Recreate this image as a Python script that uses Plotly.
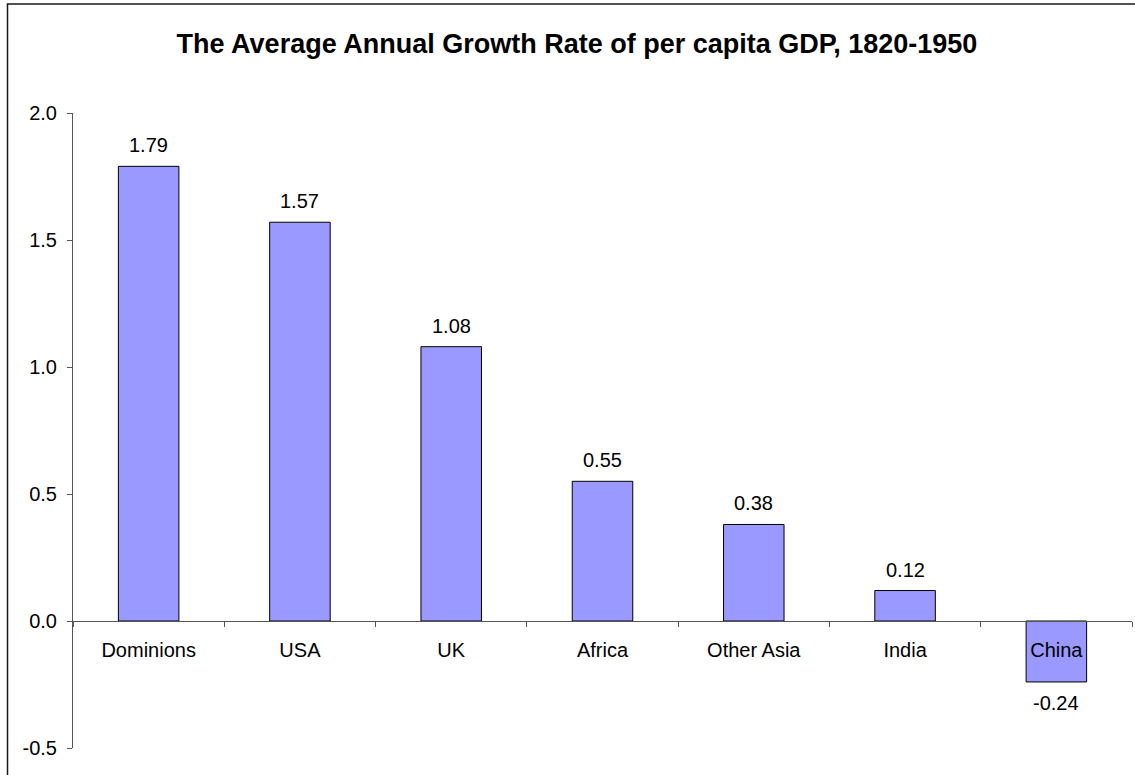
import plotly.graph_objects as go

# Average annual growth rate of per capita GDP, 1820-1950 (%)
regions = ["Dominions", "USA", "UK", "Africa", "Other Asia", "India", "China"]
growth = [1.79, 1.57, 1.08, 0.55, 0.38, 0.12, -0.24]

y_ticks = [-0.5, 0.0, 0.5, 1.0, 1.5, 2.0]
y_tick_labels = ["-0.5", "0.0", "0.5", "1.0", "1.5", "2.0"]

W, H = 1135, 775
PL, PR = 73, 1132          # plot area, horizontal (px)
PT, PB = 113.4, 747.7      # plot area, vertical (px)
Y_MIN, Y_MAX = -0.5, 2.0

FONT = "Liberation Sans, Arial, Helvetica, sans-serif"
AXIS_COLOR = "#555555"

fig = go.Figure()
fig.add_trace(go.Bar(
    x=regions,
    y=growth,
    width=0.4,
    marker=dict(color="#9999FF", line=dict(color="#000000", width=1)),
    hoverinfo="x+y",
))

# value labels just beyond the end of each bar
for name, v in zip(regions, growth):
    fig.add_annotation(
        x=name, y=v, xref="x", yref="y",
        text=f"{v:.2f}",
        showarrow=False,
        yanchor="middle",
        yshift=21 if v >= 0 else -21,
        font=dict(family=FONT, size=20, color="#000000"),
    )

# zero position of the category axis, in paper units
zero_pos = (0 - Y_MIN) / (Y_MAX - Y_MIN)

fig.update_layout(
    width=W, height=H,
    margin=dict(l=PL, r=W - PR, t=PT, b=H - PB, pad=0),
    paper_bgcolor="#FFFFFF",
    plot_bgcolor="#FFFFFF",
    showlegend=False,
    font=dict(family=FONT, size=20, color="#000000"),
    title=dict(
        text="The Average Annual Growth Rate of per capita GDP, 1820-1950",
        x=577 / W, xref="container", xanchor="center",
        y=1 - 44 / H, yref="container", yanchor="middle",
        font=dict(family=FONT, size=27, color="#000000", weight="bold"),
    ),
    xaxis=dict(
        type="category",
        range=[-0.5, len(regions) - 0.5],
        anchor="free", position=zero_pos,
        showline=True, linecolor=AXIS_COLOR, linewidth=1,
        ticks="outside", tickson="boundaries", ticklen=5,
        tickcolor=AXIS_COLOR, tickwidth=1,
        showgrid=False, zeroline=False,
        tickfont=dict(family=FONT, size=20, color="#000000"),
        ticklabelstandoff=11,
    ),
    yaxis=dict(
        range=[Y_MIN, Y_MAX],
        tickvals=y_ticks, ticktext=y_tick_labels,
        showline=True, linecolor=AXIS_COLOR, linewidth=1,
        ticks="outside", ticklen=5, tickcolor=AXIS_COLOR, tickwidth=1,
        showgrid=False, zeroline=False,
        tickfont=dict(family=FONT, size=20, color="#000000"),
        ticklabelstandoff=6,
    ),
)

# chart-area border
pw, ph = PR - PL, PB - PT
fig.add_shape(
    type="rect", xref="paper", yref="paper",
    x0=(7.5 - PL) / pw, x1=(W + 10 - PL) / pw,
    y0=(PB - (H + 10)) / ph, y1=(PB - 4.5) / ph,
    line=dict(color="#1a1a1a", width=1.5),
    fillcolor="rgba(0,0,0,0)",
    layer="above",
)

fig.write_html("out.html")
